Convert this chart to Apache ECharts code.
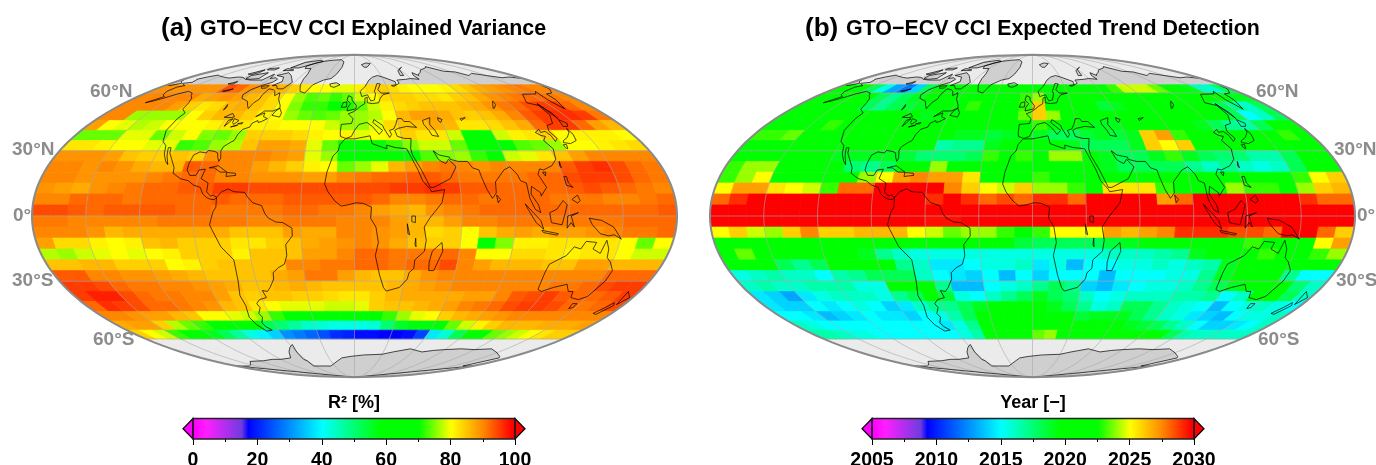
<!DOCTYPE html>
<html><head><meta charset="utf-8"><style>html,body{margin:0;padding:0;background:#fff}#c{width:1376px;height:465px}</style>
<script src="https://cdn.jsdelivr.net/npm/echarts@6/dist/echarts.min.js"></script></head><body><div id="c"></div>
<script>
// Column starts: lon -180..170 in 10 degree steps. Rows: southern edge latitude of a 5 degree band.
var r2_60=[89,89,89,89,89,89,94,92,89,88,87,86,84,82,80,80,79,79,81,83,84,83,81,80,80,80,81,83,85,87,88,89,90,91,90,90];
var r2_55=[90,90,90,90,90,87,88,89,88,86,85,83,80,76,73,74,72,74,78,80,83,84,84,83,83,82,84,85,87,89,90,91,92,92,91,90];
var r2_50=[90,90,90,90,88,84,82,83,86,87,85,83,80,75,72,72,70,71,74,78,81,83,84,85,85,85,86,87,89,91,92,94,95,95,92,90];
var r2_45=[90,90,76,76,76,76,80,84,86,86,84,81,80,76,74,73,74,76,76,77,80,86,88,88,87,85,84,85,87,90,93,95,96,96,95,91];
var r2_40=[88,80,79,77,78,80,80,80,81,82,82,81,81,80,80,80,78,76,76,79,83,85,85,87,86,82,82,83,85,87,92,95,95,92,88,86];
var r2_35=[74,74,74,79,79,74,78,80,75,74,76,84,84,84,83,81,80,81,79,80,81,84,82,82,78,68,70,78,81,82,84,80,81,81,81,80];
var r2_30=[82,82,81,80,80,79,79,72,73,76,77,85,88,88,87,79,74,70,66,68,72,75,78,78,74,68,68,68,73,74,76,80,80,81,82,83];
var r2_25=[89,89,89,88,85,84,84,85,84,89,90,90,90,89,88,79,76,62,60,60,60,64,73,75,76,72,66,78,79,82,85,88,90,90,90,90];
var r2_20=[90,90,89,90,89,87,86,86,93,92,90,90,88,86,84,81,80,74,76,79,86,88,90,91,90,89,90,90,90,90,93,95,96,94,92,91];
var r2_15=[90,90,89,89,89,89,90,91,92,92,90,90,89,89,89,88,88,90,91,92,92,93,93,92,91,91,91,91,92,92,94,95,95,94,92,91];
var r2_10=[89,88,87,89,90,91,92,92,93,93,95,95,94,94,94,94,94,94,94,94,95,95,96,95,93,93,92,92,92,92,93,94,93,92,91,90];
var r2_05=[90,90,92,92,92,91,92,92,92,92,93,92,92,92,93,93,93,93,93,92,90,90,91,92,92,91,92,92,92,91,91,91,90,90,91,92];
var r2_00=[94,94,93,92,93,93,93,93,92,92,91,91,91,91,92,92,91,91,90,88,87,86,89,90,91,92,92,92,92,92,92,92,92,92,92,93];
var r2_s05=[91,91,90,90,90,90,90,91,91,91,91,91,90,90,91,91,91,90,90,90,88,86,86,88,90,90,91,91,91,91,91,91,91,92,92,92];
var r2_s10=[90,90,90,89,86,87,87,87,87,87,87,85,85,85,88,87,87,90,90,89,88,86,83,84,80,85,87,88,87,88,88,89,90,91,91,92];
var r2_s15=[88,83,83,81,80,81,85,86,84,84,84,82,82,84,85,87,88,89,90,89,87,85,84,84,80,70,75,81,81,82,82,82,82,80,74,80];
var r2_s20=[77,76,78,79,80,79,80,81,84,84,84,81,85,85,85,88,88,90,92,92,91,91,91,92,90,80,80,83,83,82,81,82,82,80,78,78];
var r2_s25=[85,85,86,86,84,84,84,80,81,84,85,85,85,85,90,90,91,91,92,92,91,92,92,94,90,88,86,86,86,85,85,88,88,86,86,86];
var r2_s30=[93,93,90,90,89,89,88,87,86,85,85,85,85,87,88,91,91,88,86,85,85,87,89,90,90,90,90,90,90,90,90,90,90,92,92,92];
var r2_s35=[95,95,94,92,91,91,90,90,89,88,87,85,85,86,87,86,85,85,85,85,86,87,88,89,90,90,90,90,90,90,91,91,92,94,95,95];
var r2_s40=[95,97,97,94,92,91,91,90,90,88,85,84,85,85,84,84,83,82,82,84,86,87,87,87,87,88,88,90,93,94,95,93,92,92,93,95];
var r2_s45=[92,96,95,94,92,92,91,90,89,86,85,82,80,79,79,79,78,78,79,84,85,85,86,87,88,90,91,92,94,95,95,94,92,91,92,94];
var r2_s50=[90,90,89,88,88,86,85,80,80,79,78,76,72,68,60,60,60,60,60,65,72,76,79,80,84,86,87,88,89,90,90,90,90,90,90,90];
var r2_s55=[87,88,88,84,77,74,72,60,59,58,58,52,50,47,44,43,42,42,42,43,50,55,57,57,60,74,78,81,84,86,86,86,87,87,87,88];
var r2_s60=[84,80,78,72,60,58,56,52,47,42,39,36,30,28,26,24,21,20,18,18,17,17,18,23,38,43,52,62,68,74,76,78,80,82,84,84];

var yr_60=[2020.5,2020.5,2020,2018,2015.5,2013,2012,2014,2018,2020,2020.5,2021,2021,2021,2021,2021,2021,2021,2021,2021,2021,2021,2021,2021,2021,2023,2024.5,2024.5,2024.5,2023.5,2022,2021,2019,2016,2016,2018];
var yr_55=[2021,2021,2021,2021,2020,2018,2017,2018,2019,2020,2021,2021,2022,2022.5,2022,2021,2021,2023,2024,2021.5,2021,2021,2021,2021,2020,2020,2021,2021,2021,2021,2021,2021,2021,2020,2019,2019];
var yr_50=[2021,2021,2021,2021,2021,2018,2017,2018,2018.5,2019,2020,2020.5,2021,2023,2022.5,2021,2021,2023,2026,2022,2021,2021,2020.5,2018.5,2019,2020,2020.5,2020.5,2020,2020.5,2020,2019.5,2018,2017,2016,2018];
var yr_45=[2021,2021,2021,2021,2022,2021,2021,2021,2021,2020,2019,2020,2021,2022,2022.5,2021,2021,2023.5,2026,2024,2020,2021,2021,2021,2021,2021,2020,2020,2020,2021,2020.5,2020,2018,2015,2016,2018];
var yr_40=[2021,2021,2021.5,2022.5,2023,2021.5,2021,2021,2021,2021,2021,2021,2021,2022,2021,2021,2021,2022,2023,2022,2021,2020,2019,2019,2020,2021,2021,2020,2020,2019,2018,2017,2016.5,2018,2021,2022];
var yr_35=[2023,2023,2023.5,2021.5,2021,2021,2021,2021,2021,2021,2021,2021,2020,2019,2019,2018.5,2019,2020,2019,2018,2018,2018.5,2019,2018.5,2019,2026,2027,2023,2021,2020,2020.5,2020,2021,2021,2023,2022];
var yr_30=[2021,2021,2022.5,2022.5,2021,2021,2021,2022.5,2021,2021,2021,2019.5,2016.5,2017,2017,2019,2020,2021,2020,2020,2019,2018,2018,2018,2019,2026,2025,2026,2021,2020,2020,2020,2020,2022,2021,2021];
var yr_25=[2021,2021,2021,2021,2021,2021,2019,2019,2019,2019,2018.5,2017.5,2017.5,2017.5,2018,2023,2022,2023,2021,2024,2024,2021,2019,2018,2018,2019,2023,2019,2018,2017.5,2017.5,2016.5,2016.5,2018,2020,2021];
var yr_20=[2023,2024,2024,2021,2021,2021,2021,2017.5,2017,2018,2020,2021,2024,2022,2022,2021,2021,2022,2022,2022,2021,2020,2019,2018,2018,2018,2018,2017,2016,2017,2016,2015.5,2016,2018,2020,2021];
var yr_15=[2023,2024,2025,2021.5,2021,2021,2021,2021,2024,2025,2027,2027.5,2027,2027,2025.5,2022,2021,2022.5,2023,2022,2021,2020.5,2020,2020,2020,2020,2020,2020,2020,2019.5,2020,2020,2021,2023,2025,2026];
var yr_10=[2025,2027,2027,2025.5,2025,2024.5,2023,2028,2028,2030,2031,2031,2031,2027.5,2026,2025,2024.5,2026,2024,2024,2023,2022,2025.5,2025.5,2025.5,2023,2022,2022,2022,2024,2023,2023,2022,2024,2026,2026.5];
var yr_05=[2028,2029,2032,2032,2032,2032,2032,2032,2032,2032,2032,2030,2029,2030,2029,2028,2028.5,2028,2029,2029,2028,2030,2030,2031,2030,2027,2028,2032,2032,2032,2032,2032,2030,2029,2028,2028];
var yr_00=[2032,2032,2032,2032,2032,2032,2032,2032,2032,2032,2032,2032,2032,2032,2032,2032,2032,2032,2032,2032,2032,2032,2032,2032,2032,2032,2032,2032,2032,2032,2032,2032,2032,2032,2032,2032];
var yr_s05=[2032,2032,2030,2032,2032,2032,2032,2032,2032,2032,2032,2032,2029.5,2029.5,2032,2032,2032,2032,2032,2032,2032,2032,2032,2032,2032,2032,2032,2032,2032,2032,2032,2032,2032,2032,2032,2032];
var yr_s10=[2025,2026,2024.5,2024,2026,2027.5,2026,2026,2026.5,2026.5,2026.5,2025,2024.5,2023.5,2024,2024,2023,2022.5,2023,2025,2025,2025,2027,2026.5,2027,2027.5,2029,2029,2029,2028.5,2028.5,2028,2030,2030,2028,2026];
var yr_s15=[2022,2021,2021,2021,2021,2021,2021,2021,2021,2021,2021,2021,2021,2021,2021,2020,2019.5,2018.5,2018,2018,2018,2018,2018.5,2019,2022.5,2021,2021,2021,2021,2021,2023,2021,2021,2022,2025,2027];
var yr_s20=[2021,2023.5,2022,2021,2021,2021,2021,2020,2019,2017,2016,2015.5,2015.5,2015.5,2015.5,2015.5,2015.5,2015.5,2015.5,2015.5,2015.5,2015.5,2016,2016,2016,2016.5,2017,2019,2020,2021,2021,2023,2021,2022,2023,2024];
var yr_s25=[2021,2021,2021,2018,2017,2018,2019.5,2019.5,2019.5,2021,2017,2016,2014.5,2014.5,2015,2015.5,2015.5,2016,2014.5,2015.5,2013.5,2015,2015,2015.5,2015.5,2016,2015.5,2016,2016.5,2019,2021,2021,2021,2021,2021,2021];
var yr_s30=[2015.5,2016,2016.5,2016,2016,2015,2016.5,2017,2018,2018,2018,2016,2015,2014.5,2014,2015,2013.5,2015,2014,2015,2015,2015,2013.5,2015,2015,2015,2015.5,2015.5,2017,2019,2020,2020,2020,2017,2015,2015];
var yr_s35=[2016,2016.5,2016,2016,2016.5,2016.5,2016.5,2015.5,2015.5,2020,2021,2020,2017,2013.5,2013.5,2015,2015.5,2016,2017,2018,2017,2014,2013.5,2014.5,2015,2015.5,2015.5,2016,2017,2018,2019,2020,2021,2020.5,2017.5,2016];
var yr_s40=[2014.5,2014,2013,2014.5,2015.5,2016,2016,2016,2015.5,2017,2018,2020,2018.5,2015.5,2015,2016,2017,2018,2019,2018,2017.5,2016,2015,2015.5,2016,2016,2016,2016.5,2016.5,2017,2015,2016,2020,2020,2018,2016];
var yr_s45=[2014.5,2014,2014,2015,2014.5,2015,2015.5,2015,2014,2014.5,2016,2017,2017,2018,2019,2019.5,2020,2020,2020,2019,2018,2017,2015.5,2016,2018,2018,2017,2016,2015.5,2015,2013.5,2015,2015.5,2016,2015.5,2015];
var yr_s50=[2015,2015,2014.5,2013.5,2014,2014.5,2015,2014.5,2014.5,2014,2015,2015.5,2016.5,2018,2021,2021,2021,2021,2021,2020,2019.5,2018.5,2019,2019,2019,2018,2017,2016,2015.5,2014.5,2014,2013.5,2015,2015.5,2015.5,2016];
var yr_s55=[2016,2015.5,2015,2015,2015,2015,2015,2015,2015,2015,2015,2014.5,2015.5,2017,2020,2021,2021,2021,2021,2021,2021,2020.5,2020.5,2020,2020,2019,2018.5,2018,2017,2016,2015,2014,2014,2014.5,2015,2016];
var yr_s60=[2016.5,2016.5,2016,2015.5,2015.5,2015,2015,2015,2015,2015,2015,2015,2015.5,2016.5,2020,2021,2021,2021,2023.5,2024,2021,2021,2021.5,2021,2021,2021,2021,2021,2020,2018,2016.5,2016,2016,2016,2016,2016];

var bandLats=[60,55,50,45,40,35,30,25,20,15,10,5,0,-5,-10,-15,-20,-25,-30,-35,-40,-45,-50,-55,-60];
var r2Rows=[r2_60,r2_55,r2_50,r2_45,r2_40,r2_35,r2_30,r2_25,r2_20,r2_15,r2_10,r2_05,r2_00,r2_s05,r2_s10,r2_s15,r2_s20,r2_s25,r2_s30,r2_s35,r2_s40,r2_s45,r2_s50,r2_s55,r2_s60];
var yrRows=[yr_60,yr_55,yr_50,yr_45,yr_40,yr_35,yr_30,yr_25,yr_20,yr_15,yr_10,yr_05,yr_00,yr_s05,yr_s10,yr_s15,yr_s20,yr_s25,yr_s30,yr_s35,yr_s40,yr_s45,yr_s50,yr_s55,yr_s60];

var latLabels=['60°N','30°N','0°','30°S','60°S'];
var r2Ticks=[0,100,20], yrTicks=[2005,2030,5];

// coastlines [lon,lat]
var cNAm=[[-168,66],[-162,66.5],[-164,68],[-166,68.5],[-162,70],[-156.5,71.3],[-150,70.5],[-141,69.7],[-135,69.3],[-128,70],[-122,69.8],[-115,68.5],[-108,68],[-100,68],[-96,68],[-94,72],[-90,69],[-85,69.5],[-81,68.5],[-82,66.5],[-87,65],[-93,62],[-94.5,59],[-92,57],[-85,55.3],[-82,53],[-79.5,51.3],[-79,54.5],[-77,56.5],[-78,59],[-77.5,62.5],[-73,62],[-70,61],[-67,58.5],[-64.5,60.2],[-61.5,56.5],[-57,53],[-56,51.5],[-60,50],[-66,50],[-70,47],[-65,49],[-64.5,47],[-61,46],[-64,44.5],[-66,44],[-67,45],[-70,43.5],[-70,41.7],[-74,40.5],[-75.5,38],[-76,35],[-78,34],[-81,32],[-81.5,30],[-80,26.5],[-80.5,25],[-82,27],[-83,29],[-85,29.7],[-89,30.2],[-90,29],[-94,29.5],[-97,28],[-97.7,24],[-97.5,21],[-95,18.5],[-91.5,18.5],[-90.5,21],[-87,21.4],[-88,17],[-83.5,15],[-83.5,11],[-81,9],[-79.5,9.5],[-77.5,8.5],[-78.5,7.5],[-80.5,7.5],[-83,8.3],[-85.5,10],[-87.5,13],[-91.5,14],[-95,16],[-100,17],[-105,19.5],[-105.5,22],[-109,26],[-112,29],[-113,31.5],[-114.7,31.5],[-113,28],[-110,23.5],[-112,25],[-115,28.5],[-117,32.5],[-120.5,34.5],[-124,40],[-124,46],[-123,49],[-128,51],[-130,54.5],[-133,57],[-137,58.5],[-140,60],[-146,61],[-151,59.5],[-154,58],[-160,55.5],[-164,54.5],[-158,58],[-162,59],[-165,61],[-165,63.5],[-161,64.5],[-168,65.7]];
var cGreen=[[-73,78],[-68,80.5],[-60,82],[-45,83],[-30,83.5],[-20,81.5],[-18,77],[-21,72],[-25,69],[-32,68],[-40,65],[-43,60],[-48,61],[-52,65],[-54,69],[-55,72],[-60,76],[-68,76]];
var cBaffin=[[-80,73],[-72,71],[-67,69],[-62,66.5],[-65,62.5],[-70,62.5],[-74,64.5],[-78,64.5],[-73,67],[-78,70],[-88,71]];
var cVictoria=[[-117,71],[-105,73],[-102,69],[-110,68.5],[-116,69]];
var cEllesmere=[[-90,76.5],[-78,76.5],[-62,82],[-72,83],[-90,81]];
var cBanks=[[-125,72],[-118,75],[-116,73],[-120,71.5]];
var cDevon=[[-92,76],[-80,75],[-80,74.5],[-92,74.5]];
var cMelville=[[-117,76],[-106,76.5],[-105,75],[-115,75]];
var cSouthampton=[[-87,64],[-81,64.5],[-81,63],[-85,62.8]];
var cNewf=[[-59,47.7],[-53,46.8],[-53,49],[-56,51.5],[-58,50]];
var cSAm=[[-77.5,8.5],[-75,11],[-71.5,12.3],[-68,11],[-62,10.7],[-60,8.5],[-57,6],[-52,4.7],[-50,1],[-48,-1],[-44,-2.7],[-40,-3],[-35,-5.5],[-35,-9],[-39,-13],[-39,-18],[-41,-22],[-45,-23.7],[-48.5,-26],[-49,-29],[-52.5,-33],[-55,-35],[-58,-34.5],[-57,-38],[-62,-39],[-65,-41],[-64,-43],[-67,-46],[-66,-48],[-69,-51],[-68,-53],[-65,-55],[-70,-55.5],[-74,-52],[-75.5,-48],[-73,-42],[-73.5,-37],[-71,-30],[-70,-20],[-76,-14],[-80,-6],[-81,-4],[-80,-1],[-79,2],[-77.5,4],[-77.5,7]];
var cAfrica=[[-6,35.8],[0,35.8],[10,37.3],[11,33.5],[15,32.3],[20,31],[20,32.8],[25,31.6],[32,31],[32.5,30],[35.5,24],[37,21],[39,16],[43,12],[43.5,11],[51,12],[49,6],[42,-1],[39,-5],[40.5,-11],[40,-16],[35,-20],[35,-24],[32.5,-26],[32,-29],[28,-33],[20,-34.8],[18,-33],[15,-27],[12,-18],[13.5,-12],[12,-5],[9,-1],[9.5,4],[5,5.7],[1,6],[-4,5],[-7.5,4.5],[-11,6.8],[-15,11],[-17,14.5],[-16,20],[-13,27.5],[-10,30],[-9,33]];
var cEurasia=[[-9,37],[-9.3,39],[-9,43],[-2,43.5],[-1,46],[-4.5,48.5],[-1,49.5],[2,51],[4.5,52.5],[8,54],[8.5,57],[10.5,57.7],[10,54.5],[14,54],[19,54.5],[21,57],[24,59],[30,60],[23,60],[21,62],[25,65.5],[22,65.8],[17.5,61],[18,59.5],[16,56],[13,55.5],[11,59],[6,58],[5,61],[10,64],[15,68],[20,70],[26,71],[31,70],[41,67],[40,65],[35,64.5],[37,64],[44,66],[44,68],[54,68.5],[60,69],[68,68.5],[67,71],[70,73],[73,71],[75,72],[80,73],[87,75],[100,76.5],[105,77.5],[113,74],[125,73.5],[130,71],[140,72.5],[150,71],[160,69.5],[170,70],[180,69],[180,65],[178,64.5],[177,62.5],[170,60],[164,59.5],[162,56],[157,51],[155.5,56],[159,61],[155,59.5],[143,59.3],[135,54.5],[141,53],[140,48],[135,43.5],[130,42.5],[127.5,39.5],[129,36],[126.5,34.5],[126.5,37.5],[125,39.5],[121.5,39],[122,40.5],[118,39],[120,37.5],[122.5,37],[119.5,35],[122,31],[120,26],[116,23],[110,21],[108,21.5],[106,19],[109,13],[105,9],[105,10.5],[100.5,13.5],[99.5,10],[103,5],[104,1.5],[101,3],[98.5,8],[98,15],[95,16],[94,19],[91,22.5],[87,21],[80.5,15.5],[80,10.5],[77.5,8],[75,12],[73,18],[72.5,21],[69,22],[67,25],[61.5,25],[57,26],[57,27],[51,28],[48,30],[50,26],[51.5,25],[54,24],[56,26],[59.5,22.5],[55,17],[45,13],[43,13],[39,21],[35,28],[34.5,31],[36,36],[32,36],[27.5,37],[26.5,40],[29,41],[35,42],[41.5,41.5],[38,44.5],[34,44.5],[33,46],[30,46],[28,43],[26,40.7],[23,40],[24,38],[22.5,36.5],[19.5,41],[19,42.5],[13.5,45.5],[12.5,44],[18.5,40],[16,38],[12,42],[8.5,44],[3,43],[0,40],[-2,37],[-5.5,36]];
var cChukotka=[[-180,69],[-175,67],[-170,66],[-175,64.5],[-180,65]];
var cUK=[[-5.5,50],[1,51.2],[1.5,52.8],[-2,56],[-2,57.5],[-5,58.5],[-6,56],[-3,54],[-5,52]];
var cIreland=[[-10,52],[-6,52.2],[-6,55],[-9,54.5]];
var cIceland=[[-24,65.5],[-18,66.3],[-14,65],[-19,63.4],[-22.5,64]];
var cSvalbard=[[11,79],[20,80.5],[27,80],[18,77],[14,77]];
var cNovaya=[[52,71],[56,74.5],[68,77],[60,75.5],[56,71]];
var cSakhalin=[[142,54],[143,49],[142.5,46],[142,50]];
var cHonshu=[[130.9,34],[135,33.5],[140,35],[141.5,38],[141,41],[140,39],[136,36.5],[132,35]];
var cHokkaido=[[140,42],[142,45.5],[145,43.5],[143,42]];
var cKyushu=[[130,33],[132,33],[131,31],[130,31.5]];
var cTaiwan=[[120.5,23],[121.5,25],[121,22]];
var cHainan=[[109,20],[111,20],[110,18.3]];
var cLuzon=[[120.5,18],[122,18],[122,15],[124,13],[120.5,14]];
var cMindanao=[[122,7.5],[125.5,9.5],[126.5,7],[125,5.8]];
var cSumatra=[[95.5,5.5],[104,-2],[106,-6],[101.5,-3],[97,3]];
var cJava=[[105,-6.5],[114.5,-8],[114,-8.7],[106,-7.5]];
var cBorneo=[[109,1.5],[113,3],[117,7],[119,5],[117.5,1],[116,-4],[110,-3]];
var cSulawesi=[[119,-5.5],[119,0],[125,1.5],[121,0],[123,-5],[121,-3]];
var cGuinea=[[131,-1],[138,-2],[145,-5],[150.5,-10.5],[146,-8.5],[143,-9],[138,-8],[133,-4]];
var cAustralia=[[114,-22],[113.5,-26],[115,-34],[118,-35],[124,-33],[131,-31.5],[135,-35],[138,-35],[140,-38],[146,-39],[150,-37.5],[153,-30],[153,-25],[149,-21],[146,-19],[145,-15],[142.5,-11],[141,-17],[136,-15],[137,-12],[131,-11.5],[129,-15],[125,-14],[122,-18],[117,-20.5]];
var cTasmania=[[145,-41],[148,-41],[148,-43],[146,-43.5]];
var cNZnorth=[[173,-35],[178,-38],[175,-41.5],[174,-39]];
var cNZsouth=[[172,-40.5],[174,-42],[170,-46.5],[167,-46],[170,-43]];
var cMadagascar=[[49.5,-12],[50.5,-16],[47,-25],[44,-25],[43.5,-21],[44.5,-16]];
var cSriLanka=[[80,9.5],[82,7.5],[80.5,6]];
var cCuba=[[-85,22],[-80,23],[-74,20],[-78,20],[-82,22]];
var cHispaniola=[[-74,19.8],[-69,19.5],[-68.5,18.5],[-74,18]];
var cAntarctica=[[-180,-78],[-160,-78],[-150,-77],[-135,-74.5],[-115,-74],[-100,-73],[-90,-73],[-75,-72],[-68,-68],[-62,-65],[-57.5,-63.3],[-60,-68],[-62,-73],[-60,-74],[-62,-78],[-50,-78],[-36,-78],[-28,-76],[-15,-72],[-5,-71],[10,-70],[30,-69.5],[40,-68],[55,-66],[70,-68],[80,-67],[90,-66.5],[105,-66],[120,-66.5],[135,-66],[150,-68.5],[165,-71],[170,-72],[165,-78],[180,-78],[180,-90],[-180,-90]];
var lCaspian=[[47,45],[53,46.5],[51,43],[53,40],[54,37],[50,37.5],[49,40],[47,43]];
var lAral=[[58.5,46.5],[61,45.5],[59,44],[58,45]];
var lBaikal=[[104,51.5],[110,55.5],[109,53.5],[105,51.5]];
var lBalkhash=[[74,46],[78,46.5],[74,45]];
var lSuperior=[[-92,46.7],[-88,48.7],[-85,47],[-87,46.5]];
var lMichigan=[[-87.5,42],[-86,44],[-85,46],[-87.5,45]];
var lHuron=[[-84,46],[-80,45],[-82,43],[-83.5,44]];
var lErie=[[-83,41.7],[-79,42.8],[-79,42.5]];
var lOntario=[[-79.5,43.3],[-76.5,44],[-76.5,43.3]];
var lWinnipeg=[[-98,53.5],[-97,50.5],[-96.5,52]];
var lSlave=[[-116,61],[-110,62.5],[-112,61.5]];
var lBear=[[-123,65.5],[-118,67],[-118,65.5]];
var lVictoria=[[32,0],[34,0],[34,-3],[32,-2.5]];
var lTanganyika=[[29.5,-3.5],[31,-8.5],[30,-8]];
var lMalawi=[[34.5,-10],[35,-14],[34.3,-13]];

var landRings=[cNAm,cGreen,cBaffin,cVictoria,cEllesmere,cBanks,cDevon,cMelville,cSouthampton,cNewf,cSAm,cAfrica,cEurasia,cChukotka,cUK,cIreland,cIceland,cSvalbard,cNovaya,cSakhalin,cHonshu,cHokkaido,cKyushu,cTaiwan,cHainan,cLuzon,cMindanao,cSumatra,cJava,cBorneo,cSulawesi,cGuinea,cAustralia,cTasmania,cNZnorth,cNZsouth,cMadagascar,cSriLanka,cCuba,cHispaniola,cAntarctica];
var lakeRings=[lCaspian,lAral,lBaikal,lBalkhash,lSuperior,lMichigan,lHuron,lErie,lOntario,lWinnipeg,lSlave,lBear,lVictoria,lTanganyika,lMalawi];

var stops=[[0,[255,0,255]],[4,[255,30,255]],[15,[110,60,224]],[17,[0,0,255]],[40,[0,255,255]],[58,[0,255,0]],[70,[0,255,0]],[80,[255,255,0]],[90,[255,135,0]],[99,[255,0,0]],[100,[255,0,0]]];
function ramp(p){p=Math.max(0,Math.min(100,p));for(var i=1;i<stops.length;i++){if(p<=stops[i][0]){var a=stops[i-1],b=stops[i],t=(p-a[0])/(b[0]-a[0]);return 'rgb('+[0,1,2].map(function(k){return Math.round(a[1][k]+(b[1][k]-a[1][k])*t)}).join(',')+')';}}return 'rgb(255,0,0)';}

function theta(lat){var p=Math.PI*Math.sin(lat*Math.PI/180),t=lat*Math.PI/180;if(Math.abs(lat)>=90)return t;for(var i=0;i<30;i++){t-=(2*t+Math.sin(2*t)-p)/(2+2*Math.cos(2*t));}return t;}
var mollweide={project:function(c){var t=theta(c[1]);return [c[0]/180*200*Math.cos(t),-100*Math.sin(t)];},
 unproject:function(p){var t=Math.asin(Math.max(-1,Math.min(1,-p[1]/100)));return [p[0]/200*180/Math.max(Math.cos(t),1e-6),Math.asin((2*t+Math.sin(2*t))/Math.PI)*180/Math.PI];}};
var outline=[],i;
for(i=-90;i<=90;i+=2)outline.push([-180,i]);
for(i=90;i>=-90;i-=2)outline.push([180,i]);
echarts.registerMap('globe',{type:'FeatureCollection',features:[{type:'Feature',properties:{name:'sphere'},geometry:{type:'Polygon',coordinates:[outline.concat([outline[0]])]}}]});

var grat=[];
[-180,-150,-120,-90,-60,-30,0,30,60,90,120,150,180].forEach(function(lo){var l=[];for(var a=-90;a<=90;a+=3)l.push([lo,a]);grat.push(l);});
[60,30,0,-30,-60].forEach(function(la){var l=[];for(var o=-180;o<=180;o+=10)l.push([o,la]);grat.push(l);});

function ringSeries(geoIndex,rings,z,style,closed){
 return {type:'custom',coordinateSystem:'geo',geoIndex:geoIndex,silent:true,z:z,clip:false,progressive:0,
  data:rings.map(function(r,k){return [r[0][0],r[0][1],k];}),
  renderItem:function(p,api){var r=rings[api.value(2)];return {type:closed?'polygon':'polyline',shape:{points:r.map(function(c){return api.coord(c);})},style:style};}};
}
function cellSeries(geoIndex,rows,toP){
 var d=[];rows.forEach(function(row,ri){row.forEach(function(v,ci){d.push([-180+10*ci+5,bandLats[ri]+2.5,v]);});});
 return {type:'custom',coordinateSystem:'geo',geoIndex:geoIndex,silent:true,z:3,clip:false,progressive:0,data:d,
  renderItem:function(p,api){var lo=api.value(0),la=api.value(1),c=ramp(toP(api.value(2)));
   return {type:'polygon',shape:{points:[api.coord([lo-5,la-2.5]),api.coord([lo+5,la-2.5]),api.coord([lo+5,la+2.5]),api.coord([lo-5,la+2.5])]},style:{fill:c,stroke:c,lineWidth:0.7}};}};
}
var toP0=function(v){return v;}, toP1=function(v){return (v-2005)/25*100;};
function mapSeries(g,rows,toP){
 return [ringSeries(g,landRings,2,{fill:'#cfcfcf',stroke:null},true),
  cellSeries(g,rows,toP),
  ringSeries(g,grat,4,{fill:null,stroke:'#a8a8a8',lineWidth:0.6},false),
  ringSeries(g,landRings.concat(lakeRings),5,{fill:null,stroke:'#000',lineWidth:0.7},true),
  ringSeries(g,[outline.concat([outline[0]])],6,{fill:null,stroke:'#8a8a8a',lineWidth:2},true)];
}
function barSeries(ax,tk,toP){
 var d=[],s=(tk[1]-tk[0])/322;for(var k=0;k<322;k++)d.push([tk[0]+k*s,0]);
 return [{type:'custom',xAxisIndex:ax,yAxisIndex:ax,silent:true,z:3,progressive:0,data:d,clip:false,
   renderItem:function(p,api){var v=api.value(0),a=api.coord([v,0]),b=api.coord([v+s,1]),c=ramp(toP(v));return {type:'rect',shape:{x:a[0],y:b[1],width:b[0]-a[0]+0.6,height:a[1]-b[1]},style:{fill:c}};}},
  {type:'custom',xAxisIndex:ax,yAxisIndex:ax,silent:true,z:4,progressive:0,clip:false,data:[[tk[0],0]],
   renderItem:function(p,api){var a=api.coord([tk[0],0]),b=api.coord([tk[1],1]),m=(a[1]+b[1])/2;
    return {type:'group',children:[
     {type:'polygon',shape:{points:[[a[0],b[1]],[a[0]-10,m],[a[0],a[1]]]},style:{fill:ramp(0),stroke:'#000',lineWidth:1.2}},
     {type:'polygon',shape:{points:[[b[0],b[1]],[b[0]+10,m],[b[0],a[1]]]},style:{fill:ramp(100),stroke:'#000',lineWidth:1.2}},
     {type:'rect',shape:{x:a[0],y:b[1],width:b[0]-a[0],height:a[1]-b[1]},style:{fill:null,stroke:'#222',lineWidth:1.4}}]};}}];
}
function xAx(idx,tk){return {gridIndex:idx,type:'value',min:tk[0],max:tk[1],interval:tk[2],position:'bottom',
 axisLine:{show:false},splitLine:{show:false},axisTick:{show:true,length:6,lineStyle:{color:'#000',width:1}},
 minorTick:{show:true,splitNumber:2,length:3,lineStyle:{color:'#000',width:1}},
 axisLabel:{show:true,margin:12,showMinLabel:true,showMaxLabel:true,hideOverlap:false,formatter:function(v){return String(v);},color:'#000',fontFamily:'Liberation Sans',fontWeight:'bold',fontSize:19.5}};}
function yAx(idx){return {gridIndex:idx,type:'value',min:0,max:1,show:false};}
function tt(x,y,text,size,align,fill){return {type:'text',silent:true,z:20,style:{x:x,y:y,text:text,fill:fill||'#000',font:'bold '+size+'px "Liberation Sans"',textAlign:align||'left',textVerticalAlign:'middle'}};}
var gray='#8c8c8c';
var gfx=[
 tt(161,29,'(a)',26),tt(200,29.5,'GTO−ECV CCI Explained Variance',21.4),
 tt(805,29,'(b)',26),tt(846,29.5,'GTO−ECV CCI Expected Trend Detection',21.4),
 tt(354,403,'R² [%]',18,'center'),tt(1033,403,'Year [−]',18,'center'),
 tt(90,92,latLabels[0],19,'left',gray),tt(12,150,latLabels[1],19,'left',gray),tt(13,216,latLabels[2],19,'left',gray),tt(12,281,latLabels[3],19,'left',gray),tt(93,340,latLabels[4],19,'left',gray),
 tt(1256,92,latLabels[0],19,'left',gray),tt(1334,150,latLabels[1],19,'left',gray),tt(1357,216,latLabels[2],19,'left',gray),tt(1336,281,latLabels[3],19,'left',gray),tt(1258,340,latLabels[4],19,'left',gray)];
var geoBase={map:'globe',projection:mollweide,layoutSize:645,aspectScale:1,silent:true,roam:false,label:{show:false},itemStyle:{areaColor:'#ebebeb',borderWidth:0},emphasis:{disabled:true},select:{disabled:true}};
var chart=echarts.init(document.getElementById('c'),null,{renderer:'canvas'});
chart.setOption({animation:false,backgroundColor:'#fff',
 geo:[Object.assign({layoutCenter:[354.5,216]},geoBase),Object.assign({layoutCenter:[1032.5,216]},geoBase)],
 grid:[{left:193,width:322,top:418.5,height:20.5,outerBoundsMode:'none'},{left:872,width:322,top:418.5,height:20.5,outerBoundsMode:'none'}],
 xAxis:[xAx(0,r2Ticks),xAx(1,yrTicks)],yAxis:[yAx(0),yAx(1)],
 graphic:gfx,
 series:[].concat(mapSeries(0,r2Rows,toP0),mapSeries(1,yrRows,toP1),barSeries(0,r2Ticks,toP0),barSeries(1,yrTicks,toP1))});
</script></body></html>
